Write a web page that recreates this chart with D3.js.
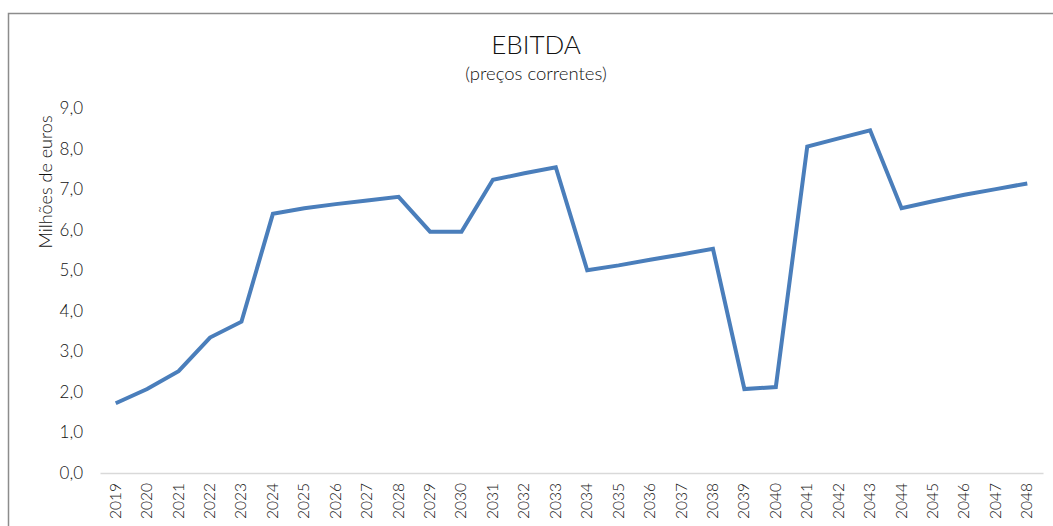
<!DOCTYPE html>
<html><head><meta charset="utf-8">
<script src="https://cdn.jsdelivr.net/npm/d3@7"></script>
<style>body{margin:0;background:#fff}svg{display:block}</style>
</head><body>
<svg id="c" width="1053" height="526"></svg>
<script>
const years = ["2019","2020","2021","2022","2023","2024","2025","2026","2027","2028","2029","2030","2031","2032","2033","2034","2035","2036","2037","2038","2039","2040","2041","2042","2043","2044","2045","2046","2047","2048"];
const ebitda = [1.72,2.07,2.51,3.34,3.73,6.39,6.53,6.63,6.72,6.81,5.95,5.95,7.23,7.39,7.54,5.00,5.12,5.26,5.39,5.53,2.07,2.12,8.05,8.25,8.45,6.53,6.70,6.86,7.00,7.14];
const yTicks = [0,1,2,3,4,5,6,7,8,9];
const titleText = "EBITDA";
const subtitleText = "(preços correntes)";
const yLabel = "Milhões de euros";

const svg = d3.select("#c");
const font = "Lato, 'Open Sans', sans-serif";
const ink = "#111";
const w = 300;
svg.append("rect").attr("x",8.5).attr("y",13.5).attr("width",1100).attr("height",600)
  .attr("fill","none").attr("stroke","#8c8c8c").attr("stroke-width",1.5);

const x = d3.scaleBand().domain(years).range([100,1043]);
const y = d3.scaleLinear().domain([0,9]).range([473,108]);

svg.append("text").attr("x",536).attr("y",54).attr("text-anchor","middle")
  .attr("font-family",font).attr("font-weight",w).attr("font-size",26).attr("fill",ink).text(titleText);
svg.append("text").attr("x",536).attr("y",80).attr("text-anchor","middle")
  .attr("font-family",font).attr("font-weight",w).attr("font-size",18.5).attr("fill",ink).text(subtitleText);
svg.append("text").attr("transform","translate(52,182) rotate(-90)").attr("text-anchor","middle")
  .attr("font-family",font).attr("font-weight",w).attr("font-size",18).attr("fill",ink).text(yLabel);

const fmt = d => d.toFixed(1).replace(".",",");
const ya = svg.append("g").attr("transform","translate(100,0)")
  .call(d3.axisLeft(y).tickValues(yTicks).tickFormat(fmt).tickSize(0).tickPadding(17));
ya.select(".domain").remove();
ya.selectAll("text").attr("font-family",font).attr("font-weight",w).attr("font-size",17).attr("fill",ink);

const xa = svg.append("g").attr("transform","translate(0,473)")
  .call(d3.axisBottom(x).tickSize(0).tickPadding(0));
xa.select(".domain").attr("stroke","#d9d9d9").attr("stroke-width",1.5);
xa.selectAll("text").attr("font-family",font).attr("font-weight",w).attr("font-size",15.5).attr("fill",ink)
  .attr("text-anchor","end").attr("dy",null).attr("transform","translate(5,10) rotate(-90)");

svg.append("path").datum(ebitda)
  .attr("d", d3.line().x((d,i)=>x(years[i])+x.bandwidth()/2).y(d=>y(d)))
  .attr("fill","none").attr("stroke","#4a7ebb").attr("stroke-width",4).attr("stroke-linejoin","miter");
</script>
</body></html>
